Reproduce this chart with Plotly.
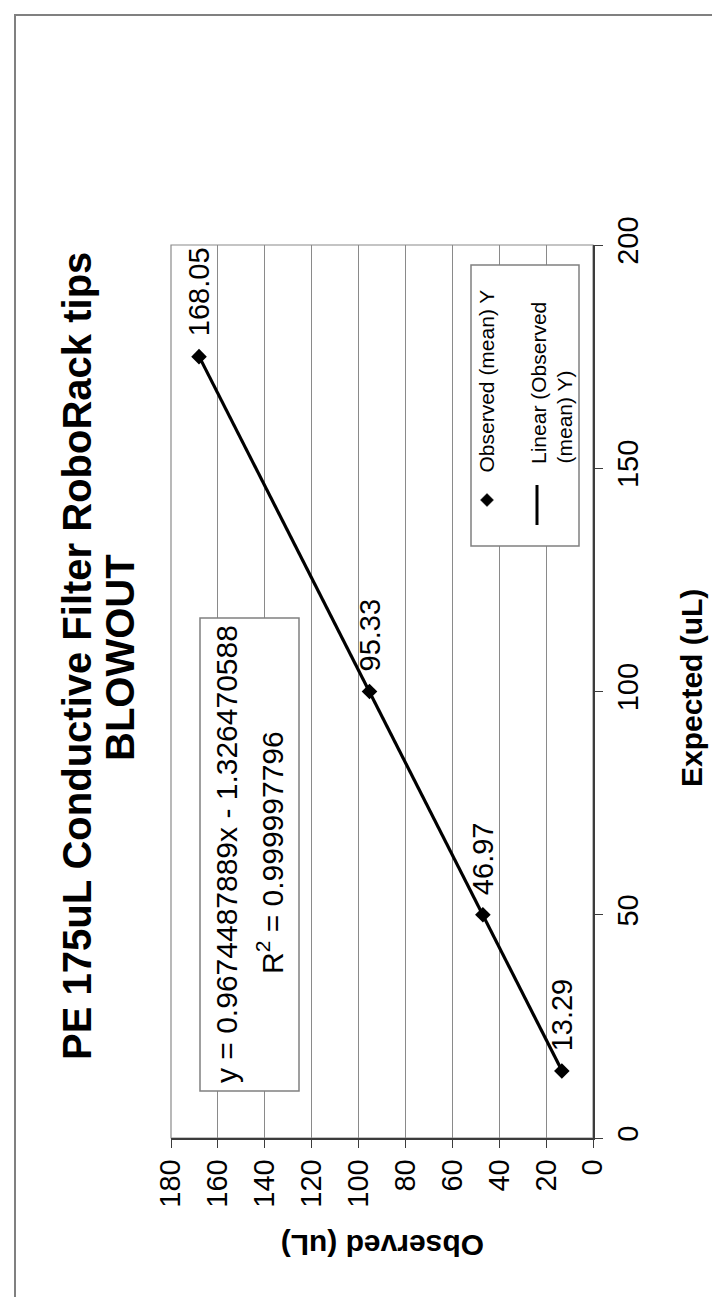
import plotly.graph_objects as go

# ---- data ----
expected = [15, 50, 100, 175]
observed = [13.29, 46.97, 95.33, 168.05]
obs_labels = ["13.29", "46.97", "95.33", "168.05"]
slope = 0.9674487889
intercept = -1.326470588
r_squared = 0.999997796
obs_ticks = [0, 20, 40, 60, 80, 100, 120, 140, 160, 180]
exp_ticks = [0, 50, 100, 150, 200]

title_line1 = "PE 175uL Conductive Filter RoboRack tips"
title_line2 = "BLOWOUT"
x_title = "Expected (uL)"
y_title = "Observed (uL)"
legend_labels = ["Observed (mean) Y", "Linear (Observed", "(mean) Y)"]

# ---- geometry (pixels) ----
W, H = 720, 1297
L, R, T, B = 163, 585, 237, 1130
FONT = "Liberation Sans, Arial, sans-serif"
GRID = "#8a8a8a"
AXIS = "#3c3c3c"
BORDER = "#808080"


def px(x):
    return (x - L) / (R - L)


def py(y):
    return (B - y) / (B - T)


trend_exp = [expected[0], expected[-1]]
trend_obs = [slope * e + intercept for e in trend_exp]

fig = go.Figure()
fig.add_trace(go.Scatter(x=trend_obs, y=trend_exp, mode="lines",
                         line=dict(color="black", width=3.2),
                         showlegend=False, hoverinfo="skip"))
fig.add_trace(go.Scatter(x=observed, y=expected, mode="markers",
                         marker=dict(symbol="diamond", size=12, color="black"),
                         showlegend=False))

shapes = []
# outer chart border
shapes.append(dict(type="rect", xref="paper", yref="paper",
                   x0=px(7), x1=px(716), y0=py(1295), y1=py(7),
                   line=dict(color=BORDER, width=2), layer="below"))
# plot area border
shapes.append(dict(type="rect", xref="x domain", yref="y domain",
                   x0=0, x1=1, y0=0, y1=1,
                   line=dict(color=GRID, width=1.2), layer="below"))
# equation box
shapes.append(dict(type="rect", xref="paper", yref="paper",
                   x0=px(192), x1=px(291), y0=py(1083), y1=py(610),
                   line=dict(color=BORDER, width=1.5), fillcolor="white", layer="above"))
# legend box
shapes.append(dict(type="rect", xref="paper", yref="paper",
                   x0=px(463), x1=px(571), y0=py(538), y1=py(257),
                   line=dict(color=BORDER, width=1.5), fillcolor="white", layer="above"))
# legend diamond
cx, cy, d = 479, 492, 6.5
shapes.append(dict(type="path", xref="paper", yref="paper",
                   path=f"M {px(cx)} {py(cy - d)} L {px(cx + d)} {py(cy)} L {px(cx)} {py(cy + d)} L {px(cx - d)} {py(cy)} Z",
                   fillcolor="black", line=dict(color="black", width=0.5), layer="above"))
# legend line
shapes.append(dict(type="line", xref="paper", yref="paper",
                   x0=px(529), x1=px(529), y0=py(517), y1=py(477),
                   line=dict(color="black", width=3), layer="above"))

ann = []
# titles
ann.append(dict(x=px(69), y=py(648), xref="paper", yref="paper", text=f"<b>{title_line1}</b>",
                textangle=-90, showarrow=False, xanchor="center", yanchor="middle",
                font=dict(family=FONT, size=40, color="black")))
ann.append(dict(x=px(112), y=py(650), xref="paper", yref="paper", text=f"<b>{title_line2}</b>",
                textangle=-90, showarrow=False, xanchor="center", yanchor="middle",
                font=dict(family=FONT, size=40, color="black")))
# axis titles
ann.append(dict(x=px(683), y=py(680), xref="paper", yref="paper", text=f"<b>{x_title}</b>",
                textangle=-90, showarrow=False, xanchor="center", yanchor="middle",
                font=dict(family=FONT, size=30, color="black")))
ann.append(dict(x=px(375), y=py(1238), xref="paper", yref="paper", text=f"<b>{y_title}</b>",
                textangle=180, showarrow=False, xanchor="center", yanchor="middle",
                font=dict(family=FONT, size=30, color="black")))
# equation
ann.append(dict(x=px(218), y=py(846), xref="paper", yref="paper",
                text=f"y = {slope}x - {abs(intercept)}",
                textangle=-90, showarrow=False, xanchor="center", yanchor="middle",
                font=dict(family=FONT, size=30, color="black")))
ann.append(dict(x=px(262), y=py(845), xref="paper", yref="paper",
                text=f"R<sup>2</sup> = {r_squared}",
                textangle=-90, showarrow=False, xanchor="center", yanchor="middle",
                font=dict(family=FONT, size=30, color="black")))
# legend text
ann.append(dict(x=px(478), y=py(467), xref="paper", yref="paper", text=legend_labels[0],
                textangle=-90, showarrow=False, xanchor="center", yanchor="bottom",
                font=dict(family=FONT, size=21, color="black")))
ann.append(dict(x=px(530), y=py(458), xref="paper", yref="paper", text=legend_labels[1],
                textangle=-90, showarrow=False, xanchor="center", yanchor="bottom",
                font=dict(family=FONT, size=21, color="black")))
ann.append(dict(x=px(556), y=py(458), xref="paper", yref="paper", text=legend_labels[2],
                textangle=-90, showarrow=False, xanchor="center", yanchor="bottom",
                font=dict(family=FONT, size=21, color="black")))
# data labels
for o, e, lab in zip(observed, expected, obs_labels):
    ann.append(dict(x=o, y=e, xref="x", yref="y", text=lab, textangle=-90,
                    showarrow=False, xanchor="center", yanchor="bottom", yshift=18,
                    font=dict(family=FONT, size=29, color="black")))

fig.update_layout(
    width=W, height=H,
    margin=dict(l=L, r=W - R, t=T, b=H - B, pad=0),
    paper_bgcolor="white", plot_bgcolor="white",
    showlegend=False,
    shapes=shapes, annotations=ann,
    font=dict(family=FONT, color="black"),
    xaxis=dict(range=[180, 0], tickvals=obs_ticks, ticktext=[str(v) for v in obs_ticks],
               tickangle=-90, ticks="outside", ticklen=8, tickcolor=AXIS, tickwidth=1.2,
               showline=True, linecolor=AXIS, linewidth=1.5,
               showgrid=True, gridcolor=GRID, gridwidth=1.2, zeroline=False,
               tickfont=dict(family=FONT, size=29, color="black"), fixedrange=True),
    yaxis=dict(range=[0, 200], tickvals=exp_ticks, ticktext=[str(v) for v in exp_ticks],
               side="right", tickangle=-90, ticks="outside", ticklen=8, tickcolor=AXIS, tickwidth=1.2,
               showline=True, linecolor=AXIS, linewidth=1.5,
               showgrid=False, zeroline=False,
               tickfont=dict(family=FONT, size=29, color="black"), fixedrange=True),
)

fig.write_html("out.html")
